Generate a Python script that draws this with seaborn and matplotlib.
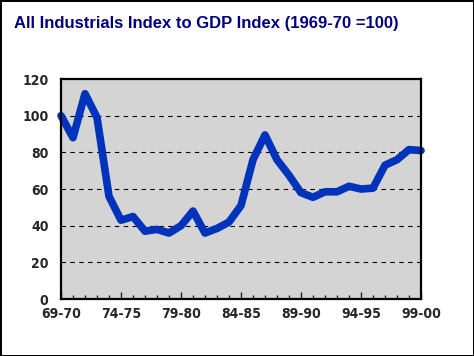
import pandas as pd
import matplotlib
matplotlib.use("Agg")
import matplotlib.pyplot as plt
import seaborn as sns

# ==========================================
# DATA
# ==========================================

years = [
    "69-70", "70-71", "71-72", "72-73", "73-74",
    "74-75", "75-76", "76-77", "77-78", "78-79",
    "79-80", "80-81", "81-82", "82-83", "83-84",
    "84-85", "85-86", "86-87", "87-88", "88-89",
    "89-90", "90-91", "91-92", "92-93", "93-94",
    "94-95", "95-96", "96-97", "97-98", "98-99",
    "99-00",
]

index_values = [
    100, 88, 112, 99, 56,
    43, 45, 37, 38, 36,
    40, 48, 36, 38.5, 42,
    51, 76, 89.5, 76, 67.5,
    58, 55.5, 58.5, 58.5, 61.5,
    60, 60.5, 73, 76, 81.5,
    81,
]

tick_labels = ["69-70", "74-75", "79-80", "84-85", "89-90", "94-95", "99-00"]

df = pd.DataFrame({
    "pos": range(len(years)),
    "year": years,
    "value": index_values,
})

# ==========================================
# PLOT
# ==========================================

sns.set_style("white")
plt.rcParams["font.family"] = ["Liberation Sans", "DejaVu Sans"]

fig = plt.figure(figsize=(4.74, 3.56), dpi=100)
fig.patch.set_facecolor("white")
fig.patch.set_edgecolor("black")
fig.patch.set_linewidth(2)

ax = fig.add_axes([0.1287, 0.160, 0.7595, 0.618])
ax.set_facecolor("#d4d4d4")

sns.lineplot(
    data=df,
    x="pos",
    y="value",
    color="#0033bb",
    linewidth=5.5,
    ax=ax,
    clip_on=False,
)

ax.set_xlim(0, len(years) - 1)
ax.set_ylim(0, 120)

ax.set_yticks(range(0, 121, 20))
for y in range(20, 120, 20):
    ax.axhline(y, color="black", linestyle=(0, (4, 4)), linewidth=0.8, zorder=0)

major_pos = [years.index(t) for t in tick_labels]
ax.set_xticks(major_pos)
ax.set_xticklabels(tick_labels)
ax.set_xticks(range(len(years)), minor=True)

for lab in ax.get_xticklabels() + ax.get_yticklabels():
    lab.set_family("DejaVu Sans")
    lab.set_stretch("condensed")
    lab.set_fontweight("bold")
    lab.set_fontsize(10)

ax.tick_params(axis="y", length=0, pad=9)
ax.tick_params(axis="x", which="major", direction="in", length=5, width=1, pad=6, bottom=True)
ax.tick_params(axis="x", which="minor", direction="in", length=3, width=1, bottom=True)

for side in ["left", "right", "top", "bottom"]:
    ax.spines[side].set_visible(True)
    ax.spines[side].set_color("black")
    ax.spines[side].set_linewidth(1.6)

ax.set_xlabel("")
ax.set_ylabel("")

fig.text(
    0.03, 0.935,
    "All Industrials Index to GDP Index (1969-70 =100)",
    color="#000080",
    fontsize=12,
    fontweight="bold",
    ha="left",
    va="center",
)

fig.savefig("out.png", dpi=100, edgecolor=fig.get_edgecolor())
